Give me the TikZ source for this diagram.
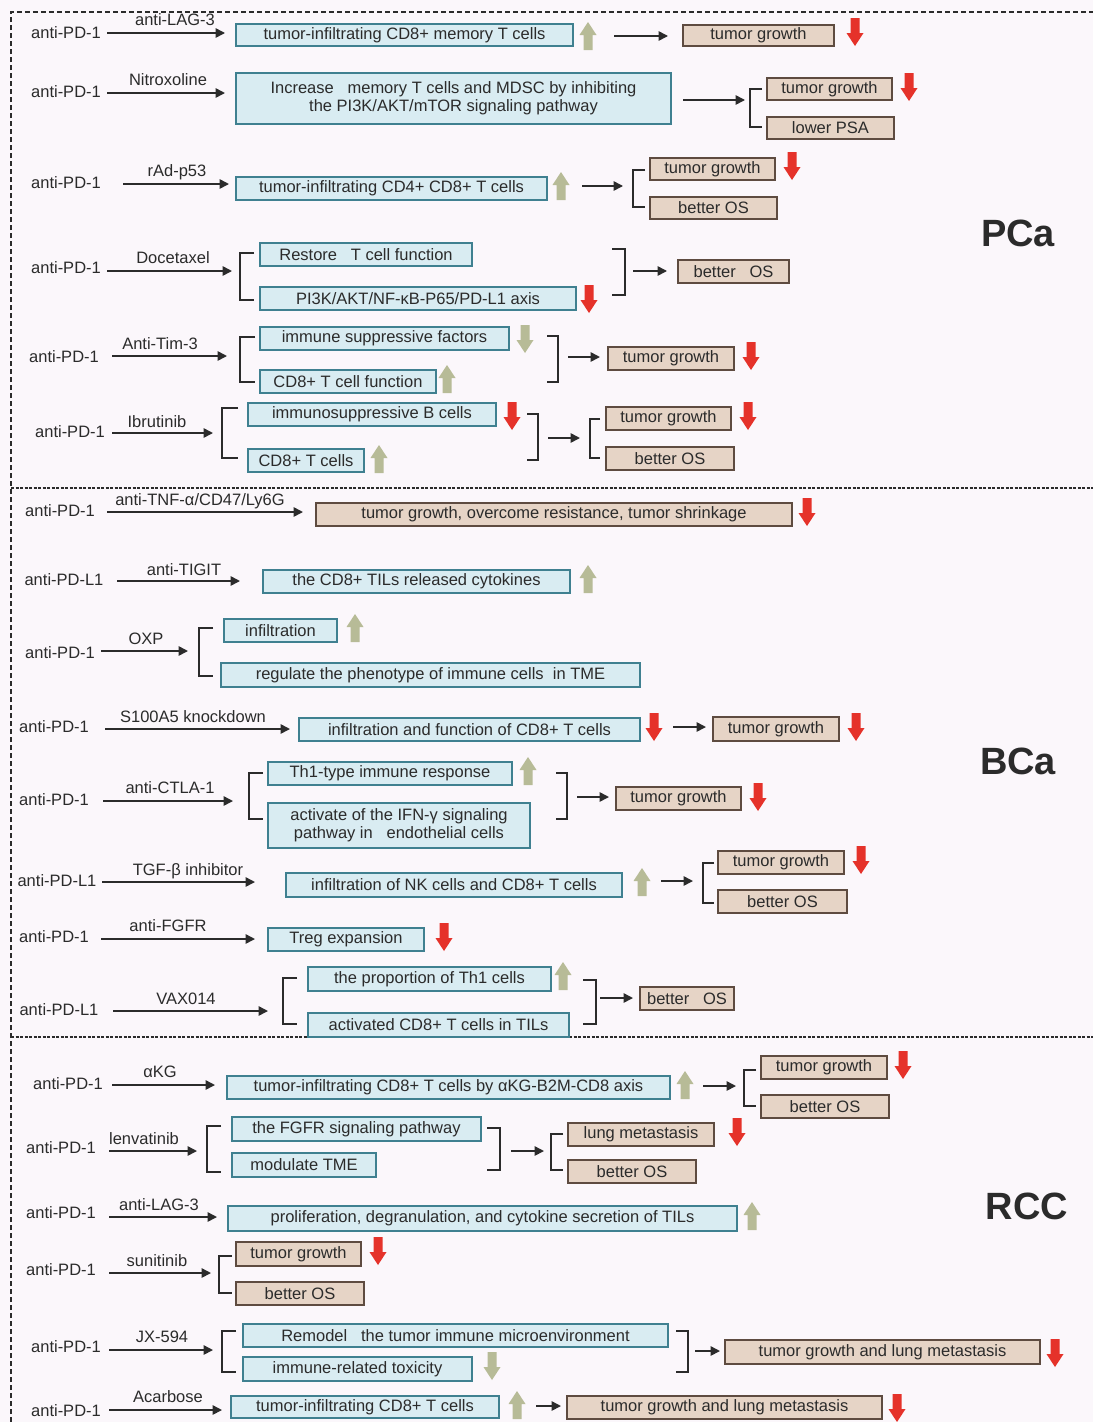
\documentclass[tikz,border=0pt]{standalone}
\usepackage{fontspec}
\setmainfont{Liberation Sans}
\usetikzlibrary{arrows.meta}
\definecolor{bg}{HTML}{FBF7FB}
\definecolor{bfill}{HTML}{D9ECF2}
\definecolor{bdraw}{HTML}{3F8090}
\definecolor{rfill}{HTML}{E6D4C6}
\definecolor{rdraw}{HTML}{5E4B40}
\definecolor{olv}{HTML}{B7BB97}
\definecolor{redarr}{HTML}{E5322A}
\definecolor{ink}{HTML}{2B2B2B}
\newcommand\fs{\fontsize{16.5}{18.5}\selectfont}
\newcommand\bx[7]{\node[#2, minimum width={#5-#3}, minimum height={#6-#4}] (#1) at ({(#3+#5)/2},{(#4+#6)/2+0.8}) {#7};}
\newcommand\brk[5]{\draw[brkline] ({#1+#4},#2) -- (#1,#2) -- (#1,#3) -- ({#1+#4},#3);}
\tikzset{
  txt/.style={inner sep=0pt, font=\fs, text=ink},
  bluebox/.style={draw=bdraw, fill=bfill, line width=2pt, inner sep=0pt, font=\fs, align=center, text=ink},
  brownbox/.style={draw=rdraw, fill=rfill, line width=2pt, inner sep=0pt, font=\fs, align=center, text=ink},
  conn/.style={draw=ink, line width=1.6pt, -{Triangle[length=9.5pt,width=9.5pt]}},
  brkline/.style={draw=ink, line width=2pt},
  title/.style={inner sep=0pt, font=\fontsize{38}{40}\selectfont\bfseries, text=ink},
  up/.pic={\fill[olv] (-4.5,14) -- (-4.5,-1) -- (-8.5,-1) -- (0,-14) -- (8.5,-1) -- (4.5,-1) -- (4.5,14) -- cycle;},
  odown/.pic={\fill[olv] (-4.5,-14) -- (4.5,-14) -- (4.5,1) -- (8.5,1) -- (0,14) -- (-8.5,1) -- (-4.5,1) -- cycle;},
  down/.pic={\fill[redarr] (-4.5,-14) -- (4.5,-14) -- (4.5,1) -- (8.5,1) -- (0,14) -- (-8.5,1) -- (-4.5,1) -- cycle;},
}
\begin{document}
\begin{tikzpicture}[x=1pt,y=-1pt]
\useasboundingbox (0,0) rectangle (1093,1422);
\fill[bg] (0,0) rectangle (1093,1422);
\draw[ink, line width=1.6pt, dash pattern=on 5pt off 3pt] (11,1422) -- (11,12) -- (1093,12);
\draw[ink, line width=2.6pt, dash pattern=on 3pt off 1.5pt] (11,488) -- (1093,488);
\draw[ink, line width=2.6pt, dash pattern=on 3pt off 1.5pt] (11,1037) -- (1093,1037);

% ================= PCa =================
\node[title] (pca) at (1018,233) {PCa};
% row 1
\node[txt] (p1a) at (66,33) {anti-PD-1};
\node[txt] (p1l) at (175,20) {anti-LAG-3};
\coordinate (p1s) at (107,33); \coordinate (p1e) at (225,33);
\draw[conn] (p1s) -- (p1e);
\bx{p1b}{bluebox}{236}{23}{573}{45}{tumor-infiltrating CD8+ memory T cells}
\pic at (588,36) {up};
\bx{p1c}{brownbox}{683}{24}{834}{45}{tumor growth}
\coordinate (p1t) at (614,36); \coordinate (p1u) at (668,36);
\draw[conn] (p1t) -- (p1u);
\pic at (855,32) {down};
% row 2
\node[txt] (p2a) at (66,92) {anti-PD-1};
\node[txt] (p2l) at (168,80) {Nitroxoline};
\coordinate (p2s) at (107,93); \coordinate (p2e) at (225,93);
\draw[conn] (p2s) -- (p2e);
\bx{p2b}{bluebox}{236}{72}{671}{123}{Increase\ \ \ memory T cells and MDSC by inhibiting\\the PI3K/AKT/mTOR signaling pathway}
\coordinate (p2t) at (683,100); \coordinate (p2u) at (745,100);
\draw[conn] (p2t) -- (p2u);
\brk{750}{89}{127}{12}{}
\bx{p2c}{brownbox}{767}{77}{892}{99}{tumor growth}
\pic at (909,87) {down};
\bx{p2d}{brownbox}{767}{116}{894}{138}{lower PSA}
% row 3
\node[txt] (p3a) at (66,183) {anti-PD-1};
\node[txt] (p3l) at (177,172) {rAd-p53};
\coordinate (p3s) at (123,184); \coordinate (p3e) at (229,184);
\draw[conn] (p3s) -- (p3e);
\bx{p3b}{bluebox}{236}{176}{547}{199}{tumor-infiltrating CD4+ CD8+ T cells}
\pic at (561,186) {up};
\coordinate (p3t) at (582,186); \coordinate (p3u) at (623,186);
\draw[conn] (p3t) -- (p3u);
\brk{633}{170}{207}{12}{}
\bx{p3c}{brownbox}{650}{157}{775}{179}{tumor growth}
\pic at (792,166) {down};
\bx{p3d}{brownbox}{650}{196}{777}{218}{better OS}
% row 4
\node[txt] (p4a) at (66,268) {anti-PD-1};
\node[txt] (p4l) at (173,258) {Docetaxel};
\coordinate (p4s) at (107,271); \coordinate (p4e) at (232,271);
\draw[conn] (p4s) -- (p4e);
\brk{240}{253}{300}{14}{}
\bx{p4b}{bluebox}{260}{242}{472}{265}{Restore\ \ \ T cell function}
\bx{p4c}{bluebox}{260}{286}{576}{309}{PI3K/AKT/NF-κB-P65/PD-L1 axis}
\pic at (589,299) {down};
\brk{625}{249}{295}{-13}{}
\coordinate (p4t) at (633,271); \coordinate (p4u) at (667,271);
\draw[conn] (p4t) -- (p4u);
\bx{p4d}{brownbox}{678}{259}{789}{282}{better\ \ \ OS}
% row 5
\node[txt] (p5a) at (64,357) {anti-PD-1};
\node[txt] (p5l) at (160,344) {Anti-Tim-3};
\coordinate (p5s) at (112,356); \coordinate (p5e) at (227,356);
\draw[conn] (p5s) -- (p5e);
\brk{240}{337}{382}{15}{}
\bx{p5b}{bluebox}{260}{326}{509}{349}{immune suppressive factors}
\pic at (525,339) {odown};
\bx{p5c}{bluebox}{260}{369}{436}{392}{CD8+ T cell function}
\pic at (447,379) {up};
\brk{558}{336}{382}{-11}{}
\coordinate (p5t) at (568,357); \coordinate (p5u) at (600,357);
\draw[conn] (p5t) -- (p5u);
\bx{p5d}{brownbox}{608}{346}{734}{369}{tumor growth}
\pic at (751,356) {down};
% row 6
\node[txt] (p6a) at (70,432) {anti-PD-1};
\node[txt] (p6l) at (157,422) {Ibrutinib};
\coordinate (p6s) at (112,433); \coordinate (p6e) at (213,433);
\draw[conn] (p6s) -- (p6e);
\brk{222}{408}{458}{16}{}
\bx{p6b}{bluebox}{248}{402}{496}{425}{immunosuppressive B cells}
\pic at (512,416) {down};
\bx{p6c}{bluebox}{248}{448}{364}{471}{CD8+ T cells}
\pic at (379,459) {up};
\brk{538}{414}{460}{-11}{}
\coordinate (p6t) at (548,438); \coordinate (p6u) at (580,438);
\draw[conn] (p6t) -- (p6u);
\brk{590}{419}{458}{10}{}
\bx{p6d}{brownbox}{606}{406}{731}{429}{tumor growth}
\pic at (748,416) {down};
\bx{p6e}{brownbox}{606}{446}{734}{469}{better OS}

% ================= BCa =================
\node[title] (bca) at (1018,761) {BCa};
% row 1
\node[txt] (b1a) at (60,511) {anti-PD-1};
\node[txt] (b1l) at (200,501) {anti-TNF-α/CD47/Ly6G};
\coordinate (b1s) at (107,512); \coordinate (b1e) at (303,512);
\draw[conn] (b1s) -- (b1e);
\bx{b1b}{brownbox}{316}{502}{792}{525}{tumor growth, overcome resistance, tumor shrinkage}
\pic at (807,512) {down};
% row 2
\node[txt] (b2a) at (64,580) {anti-PD-L1};
\node[txt] (b2l) at (184,570) {anti-TIGIT};
\coordinate (b2s) at (117,581); \coordinate (b2e) at (240,581);
\draw[conn] (b2s) -- (b2e);
\bx{b2b}{bluebox}{263}{569}{570}{592}{the CD8+ TILs released cytokines}
\pic at (588,579) {up};
% row 3
\node[txt] (b3a) at (60,653) {anti-PD-1};
\node[txt] (b3l) at (146,639) {OXP};
\coordinate (b3s) at (101,651); \coordinate (b3e) at (188,651);
\draw[conn] (b3s) -- (b3e);
\brk{199}{628}{676}{14}{}
\bx{b3b}{bluebox}{224}{618}{337}{641}{infiltration}
\pic at (355,628) {up};
\bx{b3c}{bluebox}{221}{662}{640}{686}{regulate the phenotype of immune cells\ \ in TME}
% row 4
\node[txt] (b4a) at (54,727) {anti-PD-1};
\node[txt] (b4l) at (193,717) {S100A5 knockdown};
\coordinate (b4s) at (105,729); \coordinate (b4e) at (290,729);
\draw[conn] (b4s) -- (b4e);
\bx{b4b}{bluebox}{299}{717}{640}{740}{infiltration and function of CD8+ T cells}
\pic at (654,727) {down};
\coordinate (b4t) at (673,727); \coordinate (b4u) at (706,727);
\draw[conn] (b4t) -- (b4u);
\bx{b4c}{brownbox}{713}{716}{839}{740}{tumor growth}
\pic at (856,727) {down};
% row 5
\node[txt] (b5a) at (54,800) {anti-PD-1};
\node[txt] (b5l) at (170,788) {anti-CTLA-1};
\coordinate (b5s) at (103,801); \coordinate (b5e) at (233,801);
\draw[conn] (b5s) -- (b5e);
\brk{249}{773}{819}{14}{}
\bx{b5b}{bluebox}{268}{761}{512}{784}{Th1-type immune response}
\pic at (528,771) {up};
\bx{b5c}{bluebox}{268}{802}{530}{847}{activate of the IFN-γ signaling\\pathway in\ \ \ endothelial cells}
\brk{567}{773}{819}{-11}{}
\coordinate (b5t) at (577,797); \coordinate (b5u) at (609,797);
\draw[conn] (b5t) -- (b5u);
\bx{b5d}{brownbox}{616}{786}{741}{809}{tumor growth}
\pic at (758,797) {down};
% row 6
\node[txt] (b6a) at (57,881) {anti-PD-L1};
\node[txt] (b6l) at (188,871) {TGF-β inhibitor};
\coordinate (b6s) at (102,882); \coordinate (b6e) at (255,882);
\draw[conn] (b6s) -- (b6e);
\bx{b6b}{bluebox}{286}{872}{622}{896}{infiltration of NK cells and CD8+ T cells}
\pic at (642,882) {up};
\coordinate (b6t) at (661,881); \coordinate (b6u) at (693,881);
\draw[conn] (b6t) -- (b6u);
\brk{703}{863}{903}{11}{}
\bx{b6c}{brownbox}{718}{850}{844}{873}{tumor growth}
\pic at (861,860) {down};
\bx{b6d}{brownbox}{718}{889}{847}{912}{better OS}
% row 7
\node[txt] (b7a) at (54,937) {anti-PD-1};
\node[txt] (b7l) at (168,926) {anti-FGFR};
\coordinate (b7s) at (101,939); \coordinate (b7e) at (255,939);
\draw[conn] (b7s) -- (b7e);
\bx{b7b}{bluebox}{268}{927}{424}{950}{Treg expansion}
\pic at (444,937) {down};
% row 8
\node[txt] (b8a) at (59,1010) {anti-PD-L1};
\node[txt] (b8l) at (186,999) {VAX014};
\coordinate (b8s) at (113,1011); \coordinate (b8e) at (268,1011);
\draw[conn] (b8s) -- (b8e);
\brk{283}{978}{1024}{14}{}
\bx{b8b}{bluebox}{308}{966}{551}{990}{the proportion of Th1 cells}
\pic at (563,976) {up};
\bx{b8c}{bluebox}{308}{1012}{569}{1036}{activated CD8+ T cells in TILs}
\brk{596}{980}{1024}{-13}{}
\coordinate (b8t) at (600,998); \coordinate (b8u) at (633,998);
\draw[conn] (b8t) -- (b8u);
\bx{b8d}{brownbox}{640}{986}{734}{1009}{better\ \ \ OS}

% ================= RCC =================
\node[title] (rcc) at (1027,1206) {RCC};
% row 1
\node[txt] (r1a) at (68,1084) {anti-PD-1};
\node[txt] (r1l) at (160,1072) {αKG};
\coordinate (r1s) at (112,1085); \coordinate (r1e) at (215,1085);
\draw[conn] (r1s) -- (r1e);
\bx{r1b}{bluebox}{227}{1075}{670}{1098}{tumor-infiltrating CD8+ T cells by αKG-B2M-CD8 axis}
\pic at (685,1085) {up};
\coordinate (r1t) at (703,1086); \coordinate (r1u) at (736,1086);
\draw[conn] (r1t) -- (r1u);
\brk{744}{1070}{1106}{12}{}
\bx{r1c}{brownbox}{761}{1055}{887}{1078}{tumor growth}
\pic at (903,1065) {down};
\bx{r1d}{brownbox}{761}{1094}{889}{1117}{better OS}
% row 2
\node[txt] (r2a) at (61,1148) {anti-PD-1};
\node[txt] (r2l) at (144,1139) {lenvatinib};
\coordinate (r2s) at (109,1151); \coordinate (r2e) at (197,1151);
\draw[conn] (r2s) -- (r2e);
\brk{207}{1126}{1172}{14}{}
\bx{r2b}{bluebox}{232}{1116}{481}{1140}{the FGFR signaling pathway}
\bx{r2c}{bluebox}{232}{1152}{376}{1176}{modulate TME}
\brk{500}{1128}{1170}{-13}{}
\coordinate (r2t) at (511,1151); \coordinate (r2u) at (544,1151);
\draw[conn] (r2t) -- (r2u);
\brk{551}{1134}{1170}{12}{}
\bx{r2d}{brownbox}{568}{1122}{714}{1145}{lung metastasis}
\pic at (737,1132) {down};
\bx{r2e}{brownbox}{568}{1159}{696}{1182}{better OS}
% row 3
\node[txt] (r3a) at (61,1213) {anti-PD-1};
\node[txt] (r3l) at (159,1205) {anti-LAG-3};
\coordinate (r3s) at (109,1217); \coordinate (r3e) at (217,1217);
\draw[conn] (r3s) -- (r3e);
\bx{r3b}{bluebox}{228}{1205}{737}{1230}{proliferation, degranulation, and cytokine secretion of TILs}
\pic at (752,1216) {up};
% row 4
\node[txt] (r4a) at (61,1270) {anti-PD-1};
\node[txt] (r4l) at (157,1261) {sunitinib};
\coordinate (r4s) at (109,1273); \coordinate (r4e) at (211,1273);
\draw[conn] (r4s) -- (r4e);
\brk{219}{1256}{1293}{13}{}
\bx{r4b}{brownbox}{236}{1241}{361}{1265}{tumor growth}
\pic at (378,1251) {down};
\bx{r4c}{brownbox}{236}{1281}{364}{1304}{better OS}
% row 5
\node[txt] (r5a) at (66,1347) {anti-PD-1};
\node[txt] (r5l) at (162,1337) {JX-594};
\coordinate (r5s) at (109,1350); \coordinate (r5e) at (213,1350);
\draw[conn] (r5s) -- (r5e);
\brk{222}{1331}{1372}{14}{}
\bx{r5b}{bluebox}{243}{1323}{668}{1346}{Remodel\ \ \ the tumor immune microenvironment}
\bx{r5c}{bluebox}{243}{1356}{472}{1380}{immune-related toxicity}
\pic at (492,1366) {odown};
\brk{688}{1331}{1372}{-12}{}
\coordinate (r5t) at (695,1351); \coordinate (r5u) at (720,1351);
\draw[conn] (r5t) -- (r5u);
\bx{r5d}{brownbox}{725}{1339}{1040}{1363}{tumor growth and lung metastasis}
\pic at (1055,1353) {down};
% row 6
\node[txt] (r6a) at (66,1411) {anti-PD-1};
\node[txt] (r6l) at (168,1397) {Acarbose};
\coordinate (r6s) at (109,1410); \coordinate (r6e) at (222,1410);
\draw[conn] (r6s) -- (r6e);
\bx{r6b}{bluebox}{231}{1395}{499}{1417}{tumor-infiltrating CD8+ T cells}
\pic at (517,1405) {up};
\coordinate (r6t) at (536,1406); \coordinate (r6u) at (561,1406);
\draw[conn] (r6t) -- (r6u);
\bx{r6c}{brownbox}{567}{1395}{882}{1418}{tumor growth and lung metastasis}
\pic at (897,1408) {down};
\end{tikzpicture}
\end{document}
